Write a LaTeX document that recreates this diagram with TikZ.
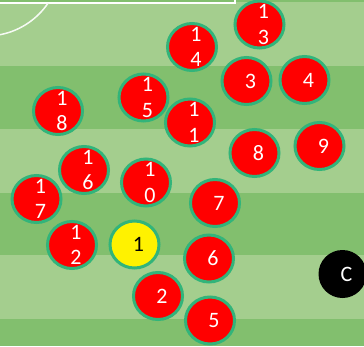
\documentclass[tikz,border=0pt]{standalone}
\usepackage{fontspec}
\setmainfont{Carlito}
\usetikzlibrary{shapes.geometric}
\definecolor{lightg}{RGB}{164,206,142}
\definecolor{darkg}{RGB}{130,191,110}
\definecolor{ring}{RGB}{50,180,122}
\tikzset{
  player/.style={ellipse, draw=ring, line width=3pt, fill=red, minimum width=49pt, minimum height=47pt, inner sep=0pt, outer sep=0pt},
  keeper/.style={player, fill=yellow},
  ball/.style={circle, fill=black, minimum size=48pt, inner sep=0pt, outer sep=0pt},
  num/.style={text=white, align=center, font=\fontsize{22}{25.5}\selectfont, inner sep=0pt, xshift=4pt},
  numk/.style={num, text=black}
}
\begin{document}
\begin{tikzpicture}[x=1pt,y=-1pt]
\useasboundingbox (0,0) rectangle (364,346);
% pitch stripes
\fill[lightg] (0,0) rectangle (364,346);
\fill[darkg] (0,0) rectangle (364,1.5);
\fill[darkg] (0,66) rectangle (364,129);
\fill[darkg] (0,193) rectangle (364,255);
\fill[darkg] (0,319) rectangle (364,346);
% markings
\draw[white, line width=1.5pt] (0,3) -- (235,3) -- (235,0);
\begin{scope}
\clip (0,3) rectangle (364,346);
\draw[white!90!lightg, line width=1.5pt] (-14,-39) circle (75);
\end{scope}
% players
\node[player, label={[num]center:1\\3}] (p13) at (259.5,24.5) {};
\node[player, label={[num]center:1\\4}] (p14) at (192,47) {};
\node[player, label={[num]center:3}] (p3) at (246.5,81) {};
\node[player, label={[num]center:4}] (p4) at (304.5,80) {};
\node[player, label={[num]center:1\\8}] (p18) at (58,111) {};
\node[player, label={[num]center:1\\5}] (p15) at (143.5,97.5) {};
\node[player, label={[num]center:1\\1}] (p11) at (190,122.5) {};
\node[player, label={[num]center:8}] (p8) at (254.5,153) {};
\node[player, label={[num]center:9}] (p9) at (319.5,146) {};
\node[player, label={[num]center:1\\6}] (p16) at (84,170) {};
\node[player, label={[num]center:1\\0}] (p10) at (146,182.5) {};
\node[player, label={[num]center:1\\7}] (p17) at (36.5,199) {};
\node[player, label={[num]center:7}] (p7) at (215,203) {};
\node[player, label={[num]center:1\\2}] (p12) at (72,245) {};
\node[keeper, label={[numk]center:1}] (p1) at (134.5,244.5) {};
\node[player, label={[num]center:6}] (p6) at (209,258.5) {};
\node[player, label={[num]center:2}] (p2) at (158,296) {};
\node[player, label={[num]center:5}] (p5) at (210,320.5) {};
\node[ball, label={[num]center:C}] (c) at (342.5,274) {};
\end{tikzpicture}
\end{document}
